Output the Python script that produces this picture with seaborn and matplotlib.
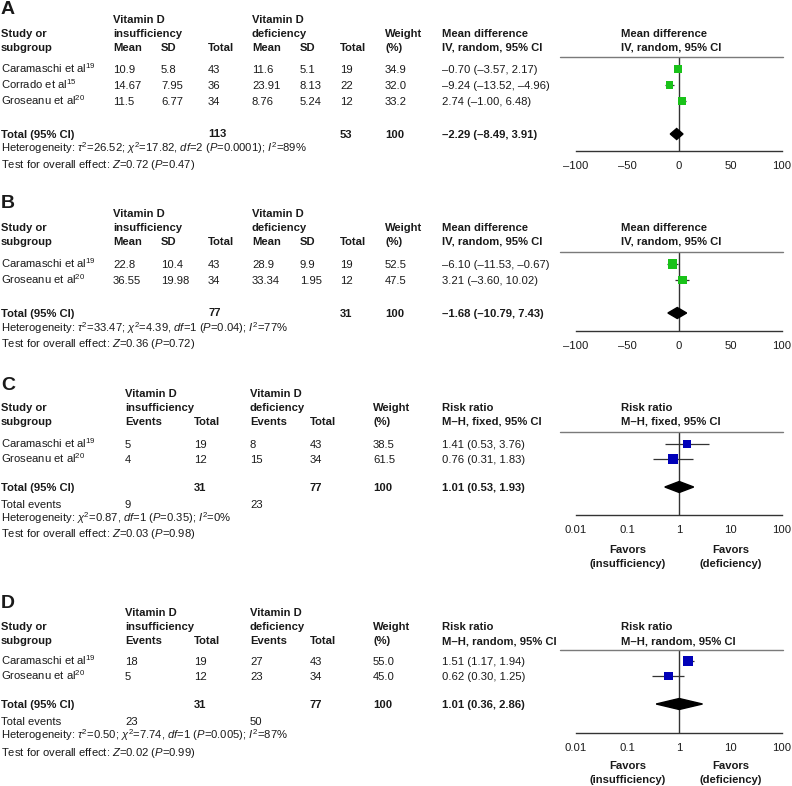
import numpy as np
import pandas as pd
import matplotlib.pyplot as plt
import seaborn as sns
from matplotlib.lines import Line2D

# ---------------------------------------------------------
# Data
# ---------------------------------------------------------
studies_a = ["Caramaschi et al$^{19}$", "Corrado et al$^{15}$", "Groseanu et al$^{20}$"]
mean_ins_a = [10.9, 14.67, 11.5]
sd_ins_a = [5.8, 7.95, 6.77]
n_ins_a = [43, 36, 34]
mean_def_a = [11.6, 23.91, 8.76]
sd_def_a = [5.1, 8.13, 5.24]
n_def_a = [19, 22, 12]
weight_a = [34.9, 32.0, 33.2]
md_a = [-0.70, -9.24, 2.74]
lo_a = [-3.57, -13.52, -1.00]
hi_a = [2.17, -4.96, 6.48]
total_a = [-2.29, -8.49, 3.91]
ntot_a = [113, 53]

studies_b = ["Caramaschi et al$^{19}$", "Groseanu et al$^{20}$"]
mean_ins_b = [22.8, 36.55]
sd_ins_b = [10.4, 19.98]
n_ins_b = [43, 34]
mean_def_b = [28.9, 33.34]
sd_def_b = [9.9, 1.95]
n_def_b = [19, 12]
weight_b = [52.5, 47.5]
md_b = [-6.10, 3.21]
lo_b = [-11.53, -3.60]
hi_b = [-0.67, 10.02]
total_b = [-1.68, -10.79, 7.43]
ntot_b = [77, 31]

studies_c = ["Caramaschi et al$^{19}$", "Groseanu et al$^{20}$"]
ev_ins_c = [5, 4]
n_ins_c = [19, 12]
ev_def_c = [8, 15]
n_def_c = [43, 34]
weight_c = [38.5, 61.5]
rr_c = [1.41, 0.76]
lo_c = [0.53, 0.31]
hi_c = [3.76, 1.83]
total_c = [1.01, 0.53, 1.93]
ntot_c = [31, 77]
evtot_c = [9, 23]

studies_d = ["Caramaschi et al$^{19}$", "Groseanu et al$^{20}$"]
ev_ins_d = [18, 5]
n_ins_d = [19, 12]
ev_def_d = [27, 23]
n_def_d = [43, 34]
weight_d = [55.0, 45.0]
rr_d = [1.51, 0.62]
lo_d = [1.17, 0.30]
hi_d = [1.94, 1.25]
total_d = [1.01, 0.36, 2.86]
ntot_d = [31, 77]
evtot_d = [23, 50]

md_ticks = [-100, -50, 0, 50, 100]
md_ticklabels = ["–100", "–50", "0", "50", "100"]
rr_ticks = [0.01, 0.1, 1, 10, 100]
rr_ticklabels = ["0.01", "0.1", "1", "10", "100"]

GREEN = "#19c219"
BLUE = "#0000b8"

# ---------------------------------------------------------
# Style
# ---------------------------------------------------------
sns.set_style("white")
plt.rcParams["font.family"] = ["Liberation Sans", "DejaVu Sans"]
plt.rcParams["mathtext.fontset"] = "custom"
plt.rcParams["mathtext.rm"] = "Liberation Sans"
plt.rcParams["mathtext.it"] = "Liberation Sans:italic"
plt.rcParams["mathtext.bf"] = "Liberation Sans:bold"

W, H = 792, 786
FS = 8.1
fig = plt.figure(figsize=(W / 100, H / 100), dpi=100)


def put(x, y, s, bold=False, size=FS, ha="left"):
    fig.text(x / W, 1 - (y + 4.0) / H, s, ha=ha, va="baseline", fontsize=size,
             fontweight="bold" if bold else "normal", color="#1a1a1a")


def hline(x0, x1, y):
    fig.add_artist(Line2D([x0 / W, x1 / W], [1 - y / H, 1 - y / H], color="#7a7a7a", lw=1))


def ci(e, l, h):
    return f"{e:.2f} ({l:.2f}, {h:.2f})".replace("-", "–")


def forest(top, bottom, rows_y, est, lo, hi, weight, tot, tot_y, color, log):
    ax = fig.add_axes([576 / W, 1 - bottom / H, (782 - 576) / W, (bottom - top) / H])
    ax.patch.set_visible(False)
    df = pd.DataFrame({"est": est, "lo": lo, "hi": hi, "w": weight, "y": rows_y})
    ax.hlines(df["y"], df["lo"], df["hi"], color="#333333", lw=0.9, zorder=2)
    sns.scatterplot(data=df, x="est", y="y", size="w", sizes=(0, 88), size_norm=(0, 100),
                    marker="s", color=color, linewidth=0, legend=False, ax=ax, zorder=3)
    e, l, h = tot
    ax.fill([l, e, h, e], [tot_y, tot_y - 5.5, tot_y, tot_y + 5.5], color="black", zorder=3)
    ref = 1 if log else 0
    ax.axvline(ref, color="#333333", lw=1, zorder=1)
    if log:
        ax.set_xscale("log")
        ax.set_xlim(0.01, 100)
        ax.set_xticks(rr_ticks)
        ax.set_xticklabels(rr_ticklabels)
        ax.set_xticks([], minor=True)
    else:
        ax.set_xlim(-100, 100)
        ax.set_xticks(md_ticks)
        ax.set_xticklabels(md_ticklabels)
    ax.set_ylim(bottom, top)
    ax.set_yticks([])
    ax.set_xlabel("")
    ax.set_ylabel("")
    for side in ["left", "right", "top"]:
        ax.spines[side].set_visible(False)
    ax.spines["bottom"].set_color("#333333")
    ax.spines["bottom"].set_linewidth(1)
    ax.tick_params(axis="x", direction="inout", length=8, width=1, color="#333333",
                   labelsize=FS, pad=3, labelcolor="#1a1a1a")
    return ax


# ---------------------------------------------------------
# Panels A and B: mean difference
# ---------------------------------------------------------
def md_panel(letter, y_letter, hdr, line_y, rows_y, tot_y, het_y, test_y, axis_y,
             studies, m1, s1, n1, m2, s2, n2, w, est, lo, hi, tot, ntot, het, test):
    put(1, y_letter + 2.5, letter, bold=True, size=14)
    put(113, hdr[0], "Vitamin D", bold=True)
    put(113, hdr[1], "insufficiency", bold=True)
    put(252, hdr[0], "Vitamin D", bold=True)
    put(252, hdr[1], "deficiency", bold=True)
    put(1, hdr[1], "Study or", bold=True)
    put(1, hdr[2], "subgroup", bold=True)
    for x, s in [(113, "Mean"), (161, "SD"), (208, "Total"), (252, "Mean"), (300, "SD"), (340, "Total")]:
        put(x, hdr[2], s, bold=True)
    put(385, hdr[1], "Weight", bold=True)
    put(385, hdr[2], "(%)", bold=True)
    for x in [442, 621]:
        put(x, hdr[1], "Mean difference", bold=True)
        put(x, hdr[2], "IV, random, 95% CI", bold=True)
    hline(560, 783, line_y)
    for i, y in enumerate(rows_y):
        put(1, y, studies[i])
        put(113, y, str(m1[i]))
        put(161, y, str(s1[i]))
        put(208, y, str(n1[i]))
        put(252, y, str(m2[i]))
        put(300, y, str(s2[i]))
        put(340, y, str(n2[i]))
        put(385, y, f"{w[i]:.1f}")
        put(442, y, ci(est[i], lo[i], hi[i]))
    put(1, tot_y, "Total (95% CI)", bold=True)
    put(208, tot_y - 1, str(ntot[0]), bold=True)
    put(340, tot_y, str(ntot[1]), bold=True)
    put(385, tot_y, "100", bold=True)
    put(442, tot_y, ci(*tot), bold=True)
    put(1, het_y, het)
    put(1, test_y, test)
    forest(line_y, axis_y, rows_y, est, lo, hi, w, tot, tot_y, GREEN, log=False)


md_panel("A", 8, [19, 33, 47], 57, [69, 85, 101], 134, 148, 164, 151,
         studies_a, mean_ins_a, sd_ins_a, n_ins_a, mean_def_a, sd_def_a, n_def_a,
         weight_a, md_a, lo_a, hi_a, total_a, ntot_a,
         r"Heterogeneity: $\tau^2$=26.52; $\chi^2$=17.82, $df$=2 ($P$=0.0001); $I^2$=89%",
         r"Test for overall effect: $Z$=0.72 ($P$=0.47)")

md_panel("B", 202, [213, 227, 241], 252, [264, 280], 313, 328, 343, 331,
         studies_b, mean_ins_b, sd_ins_b, n_ins_b, mean_def_b, sd_def_b, n_def_b,
         weight_b, md_b, lo_b, hi_b, total_b, ntot_b,
         r"Heterogeneity: $\tau^2$=33.47; $\chi^2$=4.39, $df$=1 ($P$=0.04); $I^2$=77%",
         r"Test for overall effect: $Z$=0.36 ($P$=0.72)")


# ---------------------------------------------------------
# Panels C and D: risk ratio
# ---------------------------------------------------------
def rr_panel(letter, y_letter, hdr, line_y, rows_y, tot_y, ev_y, het_y, test_y, axis_y, fav_y,
             method, studies, e1, n1, e2, n2, w, est, lo, hi, tot, ntot, evtot, het, test):
    put(1, y_letter + 2.5, letter, bold=True, size=14)
    put(125, hdr[0], "Vitamin D", bold=True)
    put(125, hdr[1], "insufficiency", bold=True)
    put(250, hdr[0], "Vitamin D", bold=True)
    put(250, hdr[1], "deficiency", bold=True)
    put(1, hdr[1], "Study or", bold=True)
    put(1, hdr[2], "subgroup", bold=True)
    for x, s in [(125, "Events"), (194, "Total"), (250, "Events"), (310, "Total")]:
        put(x, hdr[2], s, bold=True)
    put(373, hdr[1], "Weight", bold=True)
    put(373, hdr[2], "(%)", bold=True)
    for x in [442, 621]:
        put(x, hdr[1], "Risk ratio", bold=True)
        put(x, hdr[2], method, bold=True)
    hline(560, 783, line_y)
    for i, y in enumerate(rows_y):
        put(1, y, studies[i])
        put(125, y, str(e1[i]))
        put(194, y, str(n1[i]))
        put(250, y, str(e2[i]))
        put(310, y, str(n2[i]))
        put(373, y, f"{w[i]:.1f}")
        put(442, y, ci(est[i], lo[i], hi[i]))
    put(1, tot_y, "Total (95% CI)", bold=True)
    put(194, tot_y, str(ntot[0]), bold=True)
    put(310, tot_y, str(ntot[1]), bold=True)
    put(373, tot_y, "100", bold=True)
    put(442, tot_y, ci(*tot), bold=True)
    put(1, ev_y, "Total events")
    put(125, ev_y, str(evtot[0]))
    put(250, ev_y, str(evtot[1]))
    put(1, het_y, het)
    put(1, test_y, test)
    forest(line_y, axis_y, rows_y, est, lo, hi, w, tot, tot_y, BLUE, log=True)
    put(628, fav_y, "Favors", bold=True, ha="center")
    put(628, fav_y + 14, "(insufficiency)", bold=True, ha="center")
    put(731, fav_y, "Favors", bold=True, ha="center")
    put(731, fav_y + 14, "(deficiency)", bold=True, ha="center")


rr_panel("C", 384, [393, 407, 421], 432, [444, 459], 487, 504, 518, 533, 515, 549,
         "M–H, fixed, 95% CI", studies_c, ev_ins_c, n_ins_c, ev_def_c, n_def_c,
         weight_c, rr_c, lo_c, hi_c, total_c, ntot_c, evtot_c,
         r"Heterogeneity: $\chi^2$=0.87, $df$=1 ($P$=0.35); $I^2$=0%",
         r"Test for overall effect: $Z$=0.03 ($P$=0.98)")

rr_panel("D", 601, [612, 626, 640], 650, [661, 676], 704, 721, 735, 752, 733, 765,
         "M–H, random, 95% CI", studies_d, ev_ins_d, n_ins_d, ev_def_d, n_def_d,
         weight_d, rr_d, lo_d, hi_d, total_d, ntot_d, evtot_d,
         r"Heterogeneity: $\tau^2$=0.50; $\chi^2$=7.74, $df$=1 ($P$=0.005); $I^2$=87%",
         r"Test for overall effect: $Z$=0.02 ($P$=0.99)")

fig.savefig("out.png", dpi=100)
